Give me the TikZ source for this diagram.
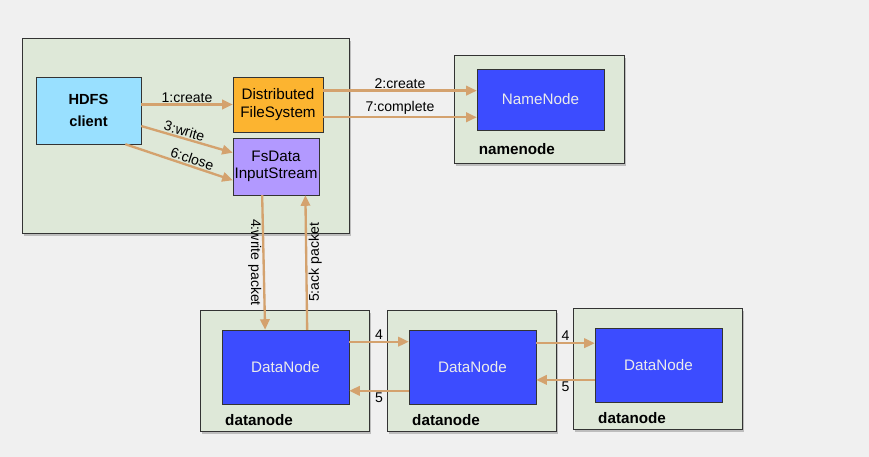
\documentclass[tikz,border=0pt]{standalone}
\usepackage{fontspec}
\setmainfont{Liberation Sans}
\usetikzlibrary{arrows.meta,calc,positioning,fit,shadows}

\definecolor{bgcol}{RGB}{240,240,240}
\definecolor{boxgreen}{RGB}{222,232,216}
\definecolor{nodeblue}{RGB}{60,76,255}
\definecolor{dfsorange}{RGB}{252,180,48}
\definecolor{streampurple}{RGB}{178,153,255}
\definecolor{clientblue}{RGB}{153,224,255}
\definecolor{flowtan}{RGB}{212,162,110}

\begin{document}
\begin{tikzpicture}[x=0.03cm, y=-0.03cm,
    container/.style={draw=black!80, thick, fill=boxgreen, inner sep=0pt,
        drop shadow={shadow xshift=2pt, shadow yshift=-2.5pt, opacity=0.45}},
    nodebox/.style={draw=black!80, fill=nodeblue, inner sep=0pt, text=white!92!black,
        minimum width=127*0.03cm, minimum height=74*0.03cm,
        font=\fontsize{13}{15}\selectfont, align=center},
    appbox/.style={draw=black!80, inner sep=0pt, font=\fontsize{13}{15}\selectfont, align=center},
    tag/.style={inner sep=0pt, anchor=west, font=\fontsize{13}{15}\selectfont\bfseries},
    flow/.style={draw=flowtan, line width=2pt, -{Triangle[length=9pt,width=8pt]}},
    lbl/.style={inner sep=1pt, font=\fontsize{12}{14}\selectfont}]

    % Background
    \useasboundingbox (0,0) rectangle (869,457);
    \fill[bgcol] (0,0) rectangle (869,457);

    % Client side
    \node[container, fit={(22,38) (349,233)}] (clientbox) {};
    \node[appbox, fill=clientblue, font=\fontsize{12.5}{19}\selectfont\bfseries,
        minimum width=105*0.03cm, minimum height=67*0.03cm] (client) at (88.5,110.5) {HDFS\\client};
    \node[appbox, fill=dfsorange, minimum width=90*0.03cm, minimum height=55*0.03cm]
        (dfs) at (278,104.5) {Distributed\\FileSystem};
    \node[appbox, fill=streampurple, minimum width=86*0.03cm, minimum height=57*0.03cm]
        (fsdata) at (276,166.5) {FsData\\InputStream};

    % Name node
    \node[container, fit={(454,55) (624,163)}] (nnbox) {};
    \node[nodebox, minimum height=61*0.03cm] (namenode) at (540.5,99.5) {NameNode};
    \node[tag] at ($(nnbox.south west)+(25,-14)$) {namenode};

    % Data nodes
    \foreach \i/\x/\y in {1/200/310, 2/387/310, 3/573/308} {
        \node[container, fit={(\x,\y) (\x+169,\y+121)}] (dnbox\i) {};
        \node[nodebox] (dn\i) at (\x+85.5,\y+57) {DataNode};
        \node[tag] at (\x+25,\y+110) {datanode};
    }

    % Client calls
    \draw[flow] (client.east |- dfs.west) -- node[lbl, above] {1:create} (dfs.west);
    \draw[flow] ($(client.north east)!0.73!(client.south east)$)
        -- node[lbl, above, sloped, pos=0.45] {3:write} ($(fsdata.north west)!0.26!(fsdata.south west)$);
    \draw[flow] ($(client.south west)!0.85!(client.south east)$)
        -- node[lbl, above, sloped, pos=0.6] {6:close} ($(fsdata.north west)!0.74!(fsdata.south west)$);

    % To the name node
    \draw[flow] ($(dfs.north east)!0.25!(dfs.south east)$) coordinate (c2)
        -- node[lbl, above] {2:create} (c2 -| namenode.west);
    \draw[flow] ($(dfs.north east)!0.73!(dfs.south east)$) coordinate (c7)
        -- node[lbl, above] {7:complete} (c7 -| namenode.west);

    % Packets down and acks up
    \draw[flow] ($(fsdata.south west)!0.34!(fsdata.south east)$)
        -- node[lbl, rotate=-90, anchor=north] {4:write packet} ($(dn1.north west)!0.34!(dn1.north east)$);
    \draw[flow] ($(dn1.north west)!0.67!(dn1.north east)$)
        -- node[lbl, rotate=90, anchor=north] {5:ack packet} ($(fsdata.south west)!0.84!(fsdata.south east)$);

    % Pipeline between data nodes
    \draw[flow] ($(dn1.north east)!0.16!(dn1.south east)$) coordinate (p1)
        -- node[lbl, above] {4} (p1 -| dn2.west);
    \draw[flow] ($(dn2.north west)!0.82!(dn2.south west)$) coordinate (q1)
        -- node[lbl, below] {5} (q1 -| dn1.east);
    \draw[flow] ($(dn2.north east)!0.18!(dn2.south east)$) coordinate (p2)
        -- node[lbl, above] {4} (p2 -| dn3.west);
    \draw[flow] ($(dn3.north west)!0.70!(dn3.south west)$) coordinate (q2)
        -- node[lbl, below] {5} (q2 -| dn2.east);
\end{tikzpicture}
\end{document}
